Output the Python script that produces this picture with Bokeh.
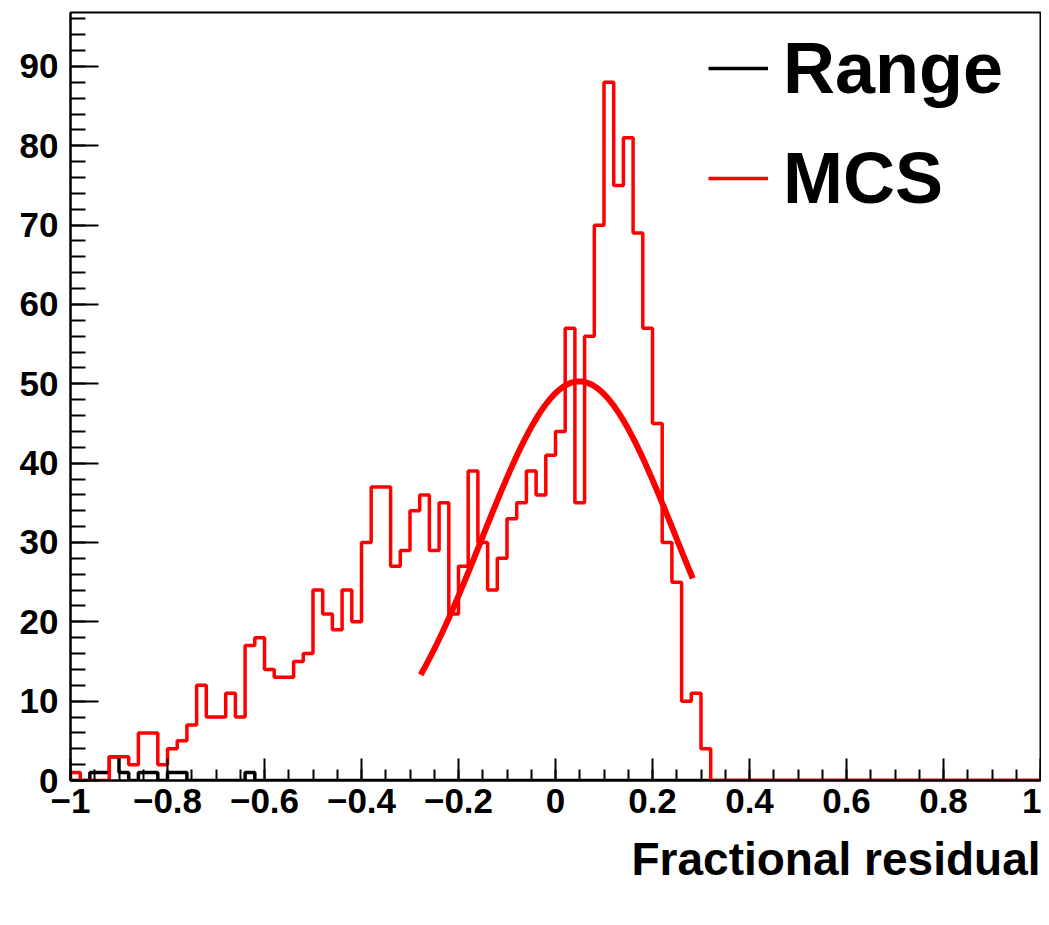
import numpy as np
from bokeh.plotting import figure
from bokeh.models import Range1d, FixedTicker, Legend, LegendItem, Title
from bokeh.embed import file_html
from bokeh.resources import INLINE

# ---------------- data ----------------
bin_lo, bin_hi, n_bins = -1.0, 1.0, 100

# MCS fractional residual histogram (bins of 0.02 from -1 to 1)
mcs_counts = [
    1, 0, 0, 0, 3, 3, 2, 6, 6, 2,
    4, 5, 7, 12, 8, 8, 11, 8, 17, 18,
    14, 13, 13, 15, 16, 24, 21, 19, 24, 20,
    30, 37, 37, 27, 29, 34, 36, 29, 35, 21,
    27, 39, 30, 24, 28, 33, 35, 39, 36, 41,
    44, 57, 35, 56, 70, 88, 75, 81, 69, 57,
    45, 30, 25, 10, 11, 4, 0, 0, 0, 0,
    0, 0, 0, 0, 0, 0, 0, 0, 0, 0,
    0, 0, 0, 0, 0, 0, 0, 0, 0, 0,
    0, 0, 0, 0, 0, 0, 0, 0, 0, 0,
]

# Range fractional residual histogram
range_counts = [
    0, 0, 1, 1, 3, 1, 0, 1, 1, 0,
    1, 1, 0, 0, 0, 0, 0, 0, 1, 0,
] + [0] * 80

# Gaussian fit drawn on MCS histogram
fit_amp, fit_mean, fit_sigma = 50.3, 0.049, 0.2006
fit_lo, fit_hi = -0.278, 0.283

x_ticks = [-1, -0.8, -0.6, -0.4, -0.2, 0, 0.2, 0.4, 0.6, 0.8, 1]
x_tick_labels = ["\u22121", "\u22120.8", "\u22120.6", "\u22120.4", "\u22120.2",
                 "0", "0.2", "0.4", "0.6", "0.8", "1"]
x_minor_ticks = [round(-1 + 0.05 * k, 2) for k in range(41)]
y_ticks = [0, 10, 20, 30, 40, 50, 60, 70, 80, 90]
y_tick_labels = ["0", "10", "20", "30", "40", "50", "60", "70", "80", "90"]
y_minor_ticks = list(range(0, 97, 2))
y_max = 96.8

series_labels = ["Range", "MCS"]
x_title = "Fractional residual"

# ---------------- helpers ----------------
edges = np.linspace(bin_lo, bin_hi, n_bins + 1)


def step_outline(counts):
    xs, ys = [edges[0]], [0]
    for i, c in enumerate(counts):
        xs += [edges[i], edges[i + 1]]
        ys += [c, c]
    xs.append(edges[-1])
    ys.append(0)
    return xs, ys


FONT = "Liberation Sans"

p = figure(width=1041, height=909,
           x_range=Range1d(bin_lo, bin_hi), y_range=Range1d(0, y_max),
           output_backend="svg", toolbar_location=None,
           min_border_left=70, min_border_right=1,
           min_border_top=12, min_border_bottom=129)
p.xgrid.visible = False
p.ygrid.visible = False
p.outline_line_color = "black"
p.outline_line_width = 2
p.background_fill_color = "white"
p.border_fill_color = "white"

# histograms
rx, ry = step_outline(range_counts)
r_range = p.line(rx, ry, line_color="black", line_width=3.5)
mx, my = step_outline(mcs_counts)
r_mcs = p.line(mx, my, line_color="#ff0000", line_width=3.5)

# fit curve
fx = np.linspace(fit_lo, fit_hi, 300)
fy = fit_amp * np.exp(-0.5 * ((fx - fit_mean) / fit_sigma) ** 2)
p.line(fx, fy, line_color="#ff0000", line_width=6)

# axes
xa = p.xaxis[0]
xa.ticker = FixedTicker(ticks=x_ticks, minor_ticks=x_minor_ticks)
xa.major_label_overrides = dict(zip(x_ticks, x_tick_labels))
xa.major_tick_in = 22
xa.major_tick_out = 0
xa.minor_tick_in = 11
xa.minor_tick_out = 0
xa.major_label_standoff = 8

ya = p.yaxis[0]
ya.ticker = FixedTicker(ticks=y_ticks, minor_ticks=y_minor_ticks)
ya.major_label_overrides = dict(zip(y_ticks, y_tick_labels))
ya.major_tick_in = 28
ya.major_tick_out = 0
ya.minor_tick_in = 15
ya.minor_tick_out = 0
ya.major_label_standoff = 12

for ax in (xa, ya):
    ax.axis_line_width = 2
    ax.axis_line_color = "black"
    ax.major_tick_line_width = 2
    ax.minor_tick_line_width = 2
    ax.major_tick_line_color = "black"
    ax.minor_tick_line_color = "black"
    ax.major_label_text_font = FONT
    ax.major_label_text_font_style = "bold"
    ax.major_label_text_font_size = "35px"
    ax.major_label_text_color = "black"

# x title, bottom right (side panel, below the axis)
p.add_layout(Title(text=x_title, align="right", standoff=30,
                   text_font=FONT, text_font_style="bold",
                   text_font_size="46px", text_color="black"), "below")

legend = Legend(items=[LegendItem(label=series_labels[0], renderers=[r_range]),
                       LegendItem(label=series_labels[1], renderers=[r_mcs])],
                location=(638, 560), orientation="vertical",
                padding=0, margin=0, spacing=26,
                glyph_width=60, glyph_height=84, label_height=84,
                label_standoff=15,
                label_text_font=FONT, label_text_font_style="bold",
                label_text_font_size="72px", label_text_color="black",
                border_line_alpha=0, background_fill_alpha=0)
p.add_layout(legend)

open("out.html", "w").write(file_html(p, INLINE))
